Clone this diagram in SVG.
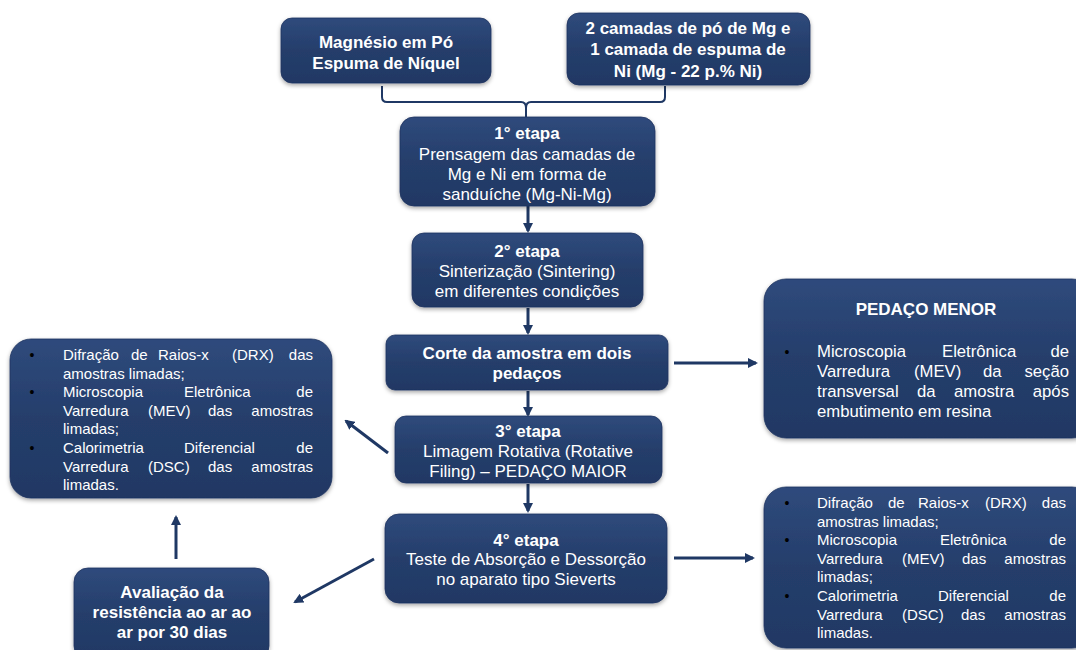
<svg xmlns="http://www.w3.org/2000/svg" width="1076" height="650" viewBox="0 0 1076 650">
<defs>
<linearGradient id="g" x1="0" y1="0" x2="0" y2="1">
<stop offset="0" stop-color="#2f4a7c"/>
<stop offset="0.5" stop-color="#253e6b"/>
<stop offset="1" stop-color="#213864"/>
</linearGradient>
<filter id="sh" x="-10%" y="-10%" width="120%" height="130%">
<feDropShadow dx="0" dy="2" stdDeviation="2" flood-color="#000" flood-opacity="0.35"/>
</filter>
<marker id="ah" markerWidth="10" markerHeight="10" refX="8" refY="5" orient="auto" markerUnits="userSpaceOnUse">
<path d="M0,0 L10,5 L0,10 z" fill="#1f3864"/>
</marker>
<style>
.box{fill:url(#g);filter:url(#sh);stroke:#1e3360;stroke-width:0.8}
.t{font-family:"Liberation Sans",Arial,sans-serif;fill:#fff;font-size:17px;text-anchor:middle}
.b{font-weight:bold}
.l{font-family:"Liberation Sans",Arial,sans-serif;fill:#fff;font-size:15px}
.h{font-family:"Liberation Sans",Arial,sans-serif;fill:#fff;font-size:16.7px}
.e{text-anchor:end}
.bul{font-family:"Liberation Sans",Arial,sans-serif;fill:#000;font-size:14px;text-anchor:middle}
.conn{stroke:#1f3864;stroke-width:3;fill:none}
.br{stroke:#1f3864;stroke-width:2;fill:none}
</style>
</defs>
<rect width="1076" height="650" fill="#fff"/>

<g id="connectors">
<path class="br" d="M382,86 V97 Q382,102 387,102 H521 Q526,102 526,108 V117 M526,108 Q526,102 531,102 H660 Q665,102 665,97 V86"/>
<line class="conn" x1="528" y1="206" x2="528" y2="231" marker-end="url(#ah)"/>
<line class="conn" x1="528" y1="308" x2="528" y2="333" marker-end="url(#ah)"/>
<line class="conn" x1="528" y1="391" x2="528" y2="415" marker-end="url(#ah)"/>
<line class="conn" x1="528" y1="484" x2="528" y2="511" marker-end="url(#ah)"/>
<line class="conn" x1="674" y1="363" x2="756" y2="363" marker-end="url(#ah)"/>
<line class="conn" x1="674" y1="558" x2="753" y2="558" marker-end="url(#ah)"/>
<line class="conn" x1="388" y1="453" x2="346" y2="421" marker-end="url(#ah)"/>
<line class="conn" x1="374" y1="559" x2="295" y2="602" marker-end="url(#ah)"/>
<line class="conn" x1="176" y1="559" x2="176" y2="517" marker-end="url(#ah)"/>
</g>

<g id="node-magnesio">
<rect class="box" x="281" y="18" width="210" height="65" rx="11"/>
<text class="t b" x="386" y="48">Magnésio em Pó</text>
<text class="t b" x="386" y="69">Espuma de Níquel</text>
</g>

<g id="node-camadas">
<rect class="box" x="567" y="13" width="243" height="72" rx="12"/>
<text class="t b" x="688" y="34">2 camadas de pó de Mg e</text>
<text class="t b" x="688" y="55">1 camada de espuma de</text>
<text class="t b" x="688" y="77">Ni (Mg - 22 p.% Ni)</text>
</g>

<g id="node-etapa1">
<rect class="box" x="400" y="117" width="255" height="89" rx="14"/>
<text class="t b" x="527" y="139">1° etapa</text>
<text class="t" x="527" y="160">Prensagem das camadas de</text>
<text class="t" x="527" y="180">Mg e Ni em forma de</text>
<text class="t" x="527" y="200">sanduíche (Mg-Ni-Mg)</text>
</g>

<g id="node-etapa2">
<rect class="box" x="412" y="233" width="231" height="74" rx="12"/>
<text class="t b" x="527" y="257">2° etapa</text>
<text class="t" x="527" y="277">Sinterização (Sintering)</text>
<text class="t" x="527" y="297">em diferentes condições</text>
</g>

<g id="node-corte">
<rect class="box" x="386" y="335" width="282" height="55" rx="9"/>
<text class="t b" x="527" y="359">Corte da amostra em dois</text>
<text class="t b" x="527" y="379">pedaços</text>
</g>

<g id="node-etapa3">
<rect class="box" x="395" y="416" width="267" height="67" rx="11"/>
<text class="t b" x="528" y="437">3° etapa</text>
<text class="t" x="528" y="457">Limagem Rotativa (Rotative</text>
<text class="t" x="528" y="477">Filing) – PEDAÇO MAIOR</text>
</g>

<g id="node-etapa4">
<rect class="box" x="385" y="514" width="282" height="89" rx="14"/>
<text class="t b" x="526" y="546">4° etapa</text>
<text class="t" x="526" y="565">Teste de Absorção e Dessorção</text>
<text class="t" x="526" y="585">no aparato tipo Sieverts</text>
</g>

<g id="node-pedaco-menor">
<rect class="box" x="764" y="279" width="330" height="159" rx="22"/>
<text class="t b" x="926" y="315">PEDAÇO MENOR</text>
<text class="bul" x="787" y="357">•</text>
<text class="h" y="357"><tspan x="817">Microscopia</tspan><tspan x="942">Eletrônica</tspan></text>
<text class="h e" x="1069" y="357">de</text>
<text class="h" y="377"><tspan x="817">Varredura</tspan><tspan x="914">(MEV)</tspan><tspan x="983">da</tspan></text>
<text class="h e" x="1069" y="377">seção</text>
<text class="h" y="397"><tspan x="817">transversal</tspan><tspan x="917">da</tspan><tspan x="954">amostra</tspan></text>
<text class="h e" x="1069" y="397">após</text>
<text class="h" x="817" y="417">embutimento em resina</text>
</g>

<g id="node-analises-direita">
<rect class="box" x="764" y="487" width="330" height="161" rx="22"/>
<text class="bul" x="787" y="508">•</text>
<text class="l" y="508"><tspan x="817">Difração</tspan><tspan x="888">de</tspan><tspan x="918">Raios-x</tspan><tspan x="985">(DRX)</tspan></text>
<text class="l e" x="1066" y="508">das</text>
<text class="l" x="817" y="526.6">amostras limadas;</text>
<text class="bul" x="787" y="545.2">•</text>
<text class="l" y="545.2"><tspan x="817">Microscopia</tspan><tspan x="940">Eletrônica</tspan></text>
<text class="l e" x="1066" y="545.2">de</text>
<text class="l" y="563.8"><tspan x="817">Varredura</tspan><tspan x="902">(MEV)</tspan><tspan x="962">das</tspan></text>
<text class="l e" x="1066" y="563.8">amostras</text>
<text class="l" x="817" y="582.4">limadas;</text>
<text class="bul" x="787" y="601">•</text>
<text class="l" y="601"><tspan x="817">Calorimetria</tspan><tspan x="938">Diferencial</tspan></text>
<text class="l e" x="1066" y="601">de</text>
<text class="l" y="619.6"><tspan x="817">Varredura</tspan><tspan x="902">(DSC)</tspan><tspan x="961">das</tspan></text>
<text class="l e" x="1066" y="619.6">amostras</text>
<text class="l" x="817" y="638.2">limadas.</text>
</g>

<g id="node-analises-esquerda">
<rect class="box" x="10" y="339" width="322" height="159" rx="21"/>
<text class="bul" x="32" y="360">•</text>
<text class="l" y="360"><tspan x="63">Difração</tspan><tspan x="131">de</tspan><tspan x="158">Raios-x</tspan><tspan x="232">(DRX)</tspan></text>
<text class="l e" x="313" y="360">das</text>
<text class="l" x="63" y="378.6">amostras limadas;</text>
<text class="bul" x="32" y="397.2">•</text>
<text class="l" y="397.2"><tspan x="63">Microscopia</tspan><tspan x="184">Eletrônica</tspan></text>
<text class="l e" x="313" y="397.2">de</text>
<text class="l" y="415.8"><tspan x="63">Varredura</tspan><tspan x="148">(MEV)</tspan><tspan x="208">das</tspan></text>
<text class="l e" x="313" y="415.8">amostras</text>
<text class="l" x="63" y="434.4">limadas;</text>
<text class="bul" x="32" y="453">•</text>
<text class="l" y="453"><tspan x="63">Calorimetria</tspan><tspan x="184">Diferencial</tspan></text>
<text class="l e" x="313" y="453">de</text>
<text class="l" y="471.6"><tspan x="63">Varredura</tspan><tspan x="148">(DSC)</tspan><tspan x="208">das</tspan></text>
<text class="l e" x="313" y="471.6">amostras</text>
<text class="l" x="63" y="490.2">limadas.</text>
</g>

<g id="node-avaliacao">
<rect class="box" x="74" y="568" width="195" height="92" rx="14"/>
<text class="t b" x="172" y="598">Avaliação da</text>
<text class="t b" x="172" y="618">resistência ao ar ao</text>
<text class="t b" x="172" y="638">ar por 30 dias</text>
</g>
</svg>
